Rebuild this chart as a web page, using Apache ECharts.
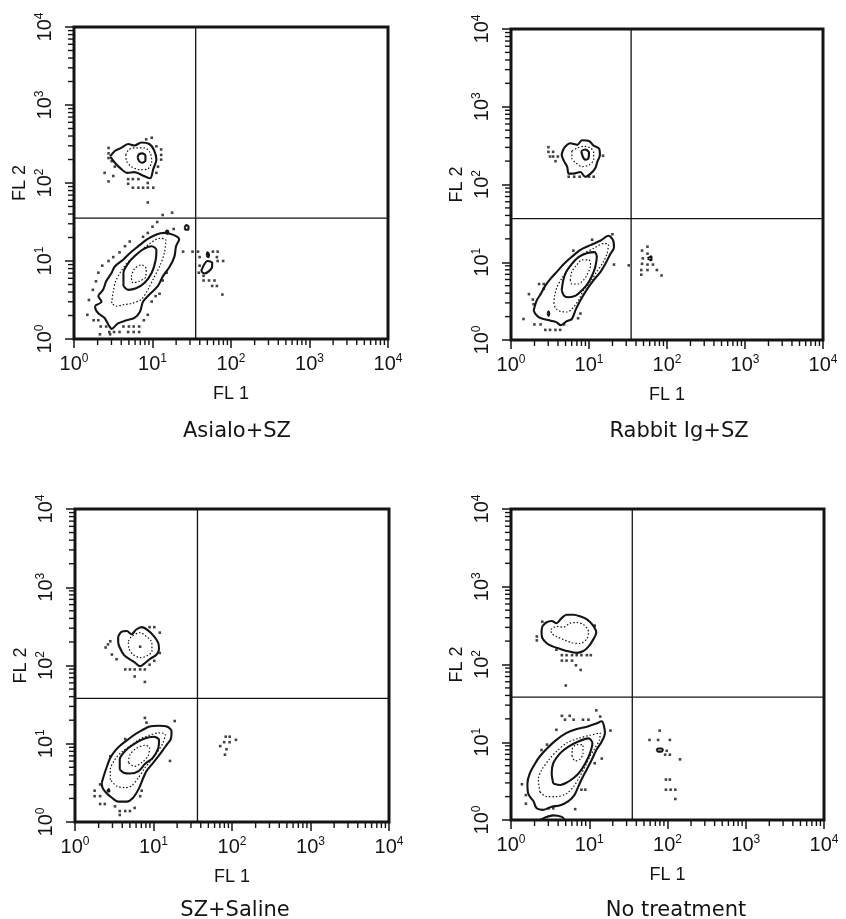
<!DOCTYPE html>
<html><head><meta charset="utf-8">
<script src="https://cdn.jsdelivr.net/npm/echarts@6/dist/echarts.min.js"></script>
<style>html,body{margin:0;padding:0;background:#fff}#c{width:846px;height:919px}</style>
</head><body><div id="c"></div><script>
// All coordinates are in decades: [log10(FL1), log10(FL2)]
const panelTitles = ['Asialo+SZ', 'Rabbit Ig+SZ', 'SZ+Saline', 'No treatment'];
const xAxisName = 'FL 1';
const yAxisName = 'FL 2';
const tickDecades = [0, 1, 2, 3, 4];
const minorFactors = [2, 3, 4, 5, 6, 7, 8, 9];
const quadrantCuts = [[1.55, 1.55], [1.54, 1.56], [1.56, 1.58], [1.55, 1.58]];

// ---- Asialo+SZ ----
const asialoUpOuter = [[0.46,2.34],[0.52,2.41],[0.60,2.45],[0.69,2.50],[0.77,2.48],[0.86,2.52],[0.96,2.50],[1.02,2.42],[1.05,2.30],[1.01,2.18],[0.97,2.06],[0.89,2.09],[0.77,2.14],[0.68,2.13],[0.59,2.19],[0.52,2.26]];
const asialoUpMid = [[0.66,2.36],[0.70,2.43],[0.79,2.45],[0.90,2.45],[0.97,2.39],[0.99,2.28],[0.94,2.18],[0.84,2.17],[0.73,2.21],[0.67,2.28]];
const asialoUpCore = [[0.81,2.33],[0.83,2.37],[0.87,2.38],[0.91,2.35],[0.91,2.29],[0.87,2.26],[0.83,2.28]];
const asialoLowOuter = [[0.27,0.43],[0.35,0.48],[0.31,0.55],[0.37,0.63],[0.41,0.74],[0.48,0.85],[0.52,0.93],[0.63,1.02],[0.71,1.10],[0.82,1.19],[0.92,1.27],[1.05,1.34],[1.15,1.36],[1.22,1.35],[1.30,1.32],[1.34,1.28],[1.30,1.19],[1.28,1.06],[1.22,0.93],[1.13,0.80],[1.07,0.68],[0.96,0.57],[0.88,0.48],[0.84,0.35],[0.77,0.27],[0.67,0.24],[0.56,0.20],[0.48,0.13],[0.44,0.18],[0.39,0.27],[0.31,0.33],[0.27,0.40]];
const asialoLowMid = [[0.48,0.46],[0.50,0.61],[0.53,0.74],[0.60,0.87],[0.71,1.01],[0.84,1.12],[0.96,1.22],[1.09,1.29],[1.17,1.27],[1.15,1.10],[1.09,0.93],[1.01,0.77],[0.94,0.63],[0.86,0.51],[0.75,0.46],[0.63,0.44],[0.54,0.42]];
const asialoLowInner = [[0.63,0.68],[0.63,0.85],[0.69,0.97],[0.77,1.06],[0.88,1.15],[0.99,1.19],[1.05,1.14],[1.04,1.01],[0.99,0.85],[0.90,0.72],[0.79,0.65],[0.69,0.63]];
const asialoLowCore = [[0.73,0.80],[0.77,0.90],[0.86,0.95],[0.92,0.90],[0.91,0.79],[0.83,0.74],[0.75,0.72]];
const asialoSpeckA = [[1.41,1.43],[1.43,1.46],[1.46,1.44],[1.45,1.40],[1.42,1.40]];
const asialoSpeckB = [[1.17,1.36],[1.18,1.39],[1.20,1.38],[1.19,1.35]];
const asialoRightOuter = [[1.62,0.87],[1.65,0.94],[1.70,1.00],[1.76,0.98],[1.76,0.93],[1.72,0.87],[1.66,0.84]];
const asialoRightSpeck = [[1.69,1.07],[1.70,1.11],[1.72,1.08],[1.71,1.05]];
const asialoDots = [[0.44,2.45],[0.44,2.38],[0.44,2.32],[0.48,2.28],[0.52,2.21],[0.39,2.13],[0.44,2.02],[0.50,2.09],[0.69,2.05],[0.75,2.05],[0.82,2.05],[0.69,1.99],[0.75,1.94],[0.82,1.94],[0.88,1.94],[0.94,1.94],[1.01,1.94],[0.94,2.00],[0.99,2.58],[0.92,2.56],[1.05,2.47],[1.11,2.43],[1.11,2.36],[1.11,2.30],[1.07,2.21],[1.05,2.13],
 [0.94,1.75],[1.13,1.59],[1.25,1.62],[1.06,1.50],[1.00,1.44],[0.94,1.36],[0.88,1.31],[1.27,1.41],[0.71,1.25],[0.65,1.19],[0.58,1.11],[0.50,1.05],[0.44,1.00],[0.36,0.94],[0.31,0.85],[0.28,0.74],[0.24,0.63],[0.19,0.50],[0.17,0.31],[0.25,0.24],[0.31,0.24],[0.34,0.16],[0.41,0.16],[0.45,0.09],[0.51,0.09],[0.58,0.09],[0.63,0.16],[0.70,0.16],[0.76,0.16],[0.83,0.16],[0.69,0.09],[0.76,0.09],[0.83,0.09],[0.89,0.24],[0.94,0.31],[0.99,0.48],[1.04,0.55],[1.09,0.58],[1.13,0.75],[1.18,0.85],[0.33,0.06],[0.46,0.06],
 [1.39,1.12],[1.51,1.12],[1.58,1.12],[1.60,1.05],[1.77,1.12],[1.83,1.12],[1.82,1.05],[1.83,1.00],[1.90,1.00],[1.60,0.94],[1.59,0.85],[1.65,0.81],[1.65,0.75],[1.72,0.75],[1.79,0.75],[1.76,0.68],[1.82,0.68],[1.89,0.57]];

// ---- Rabbit Ig+SZ ----
const rabbitUpOuter = [[0.68,2.47],[0.76,2.53],[0.85,2.51],[0.91,2.57],[1.00,2.56],[1.06,2.50],[1.13,2.46],[1.14,2.38],[1.11,2.30],[1.08,2.21],[1.02,2.14],[0.95,2.10],[0.89,2.16],[0.80,2.14],[0.74,2.14],[0.72,2.23],[0.68,2.30],[0.65,2.38]];
const rabbitUpMid = [[0.78,2.43],[0.85,2.47],[0.93,2.49],[1.02,2.47],[1.06,2.41],[1.06,2.32],[1.00,2.25],[0.91,2.23],[0.83,2.28],[0.78,2.34]];
const rabbitUpCore = [[0.90,2.43],[0.95,2.45],[1.00,2.41],[0.99,2.33],[0.95,2.32],[0.92,2.36]];
const rabbitLowOuter = [[0.29,0.38],[0.33,0.51],[0.38,0.59],[0.44,0.70],[0.50,0.78],[0.59,0.88],[0.68,0.98],[0.78,1.07],[0.89,1.16],[1.02,1.22],[1.15,1.28],[1.25,1.34],[1.31,1.28],[1.32,1.19],[1.27,1.10],[1.21,0.98],[1.15,0.88],[1.06,0.77],[0.98,0.66],[0.89,0.51],[0.83,0.39],[0.78,0.27],[0.71,0.24],[0.64,0.19],[0.58,0.23],[0.50,0.25],[0.42,0.27],[0.36,0.29],[0.31,0.34]];
const rabbitLowMid = [[0.55,0.47],[0.56,0.57],[0.59,0.68],[0.65,0.79],[0.74,0.92],[0.83,1.03],[0.93,1.11],[1.06,1.18],[1.19,1.24],[1.25,1.23],[1.23,1.11],[1.17,0.98],[1.10,0.88],[1.02,0.75],[0.93,0.64],[0.87,0.52],[0.80,0.42],[0.72,0.36],[0.63,0.37],[0.57,0.41]];
const rabbitLowInner = [[0.65,0.64],[0.67,0.77],[0.71,0.88],[0.78,0.98],[0.87,1.07],[0.98,1.12],[1.07,1.13],[1.10,1.07],[1.08,0.94],[1.04,0.83],[0.98,0.72],[0.91,0.64],[0.83,0.57],[0.74,0.55],[0.68,0.57]];
const rabbitLowCore = [[0.76,0.77],[0.78,0.88],[0.84,0.96],[0.91,1.03],[1.00,1.03],[1.02,0.96],[0.98,0.85],[0.93,0.77],[0.86,0.72],[0.78,0.72]];
const rabbitSpeck = [[0.47,0.34],[0.48,0.37],[0.49,0.34],[0.48,0.31]];
const rabbitRightTri = [[1.75,1.05],[1.80,1.08],[1.80,1.02]];
const rabbitDots = [[0.48,2.48],[0.48,2.42],[0.54,2.42],[0.54,2.36],[0.60,2.36],[0.57,2.30],[0.50,2.36],[0.74,2.10],[0.81,2.10],[0.88,2.10],[1.00,2.10],[1.06,2.10],[1.18,2.37],
 [0.36,0.72],[0.42,0.72],[0.42,0.66],[0.23,0.59],[0.28,0.52],[0.29,0.46],[0.16,0.27],[0.30,0.20],[0.38,0.20],[0.44,0.13],[0.50,0.13],[0.57,0.13],[0.63,0.13],[0.68,0.20],[0.80,1.15],[1.04,1.29],[1.30,1.36],[1.32,0.97],[0.86,0.28],[0.89,0.34],
 [1.75,1.20],[1.68,1.15],[1.75,1.11],[1.69,1.05],[1.68,0.98],[1.75,0.97],[1.82,0.97],[1.67,0.90],[1.75,0.90],[1.87,0.90],[1.93,0.83],[1.67,0.84],[1.51,0.96]];

// ---- SZ+Saline ----
const salineUpOuter = [[0.55,2.37],[0.59,2.43],[0.66,2.44],[0.72,2.40],[0.78,2.46],[0.85,2.49],[0.93,2.45],[1.01,2.37],[1.06,2.29],[1.07,2.21],[1.04,2.14],[0.95,2.08],[0.89,2.03],[0.83,1.99],[0.76,2.04],[0.68,2.09],[0.62,2.14],[0.57,2.23],[0.55,2.30]];
const salineUpMid = [[0.68,2.31],[0.72,2.37],[0.83,2.42],[0.91,2.37],[0.98,2.29],[0.98,2.18],[0.91,2.12],[0.83,2.10],[0.74,2.14],[0.69,2.21]];
const salineLowOuter = [[0.34,0.50],[0.37,0.60],[0.40,0.69],[0.45,0.82],[0.51,0.91],[0.58,0.98],[0.67,1.05],[0.75,1.11],[0.85,1.17],[0.95,1.22],[1.07,1.23],[1.17,1.22],[1.23,1.16],[1.22,1.06],[1.17,0.99],[1.12,0.92],[1.06,0.84],[0.99,0.75],[0.91,0.65],[0.86,0.54],[0.81,0.42],[0.74,0.31],[0.66,0.26],[0.55,0.26],[0.47,0.31],[0.40,0.37],[0.35,0.44]];
const salineLowMid = [[0.45,0.54],[0.45,0.67],[0.51,0.80],[0.59,0.89],[0.70,0.97],[0.83,1.06],[0.95,1.11],[1.07,1.14],[1.15,1.12],[1.12,1.01],[1.06,0.91],[0.98,0.80],[0.89,0.69],[0.81,0.57],[0.72,0.46],[0.64,0.44],[0.53,0.46]];
const salineLowInner = [[0.57,0.67],[0.57,0.80],[0.64,0.91],[0.74,0.99],[0.87,1.06],[1.00,1.09],[1.07,1.05],[1.06,0.94],[0.99,0.82],[0.89,0.74],[0.81,0.65],[0.70,0.62],[0.62,0.63]];
const salineLowCore = [[0.68,0.76],[0.70,0.86],[0.78,0.94],[0.89,0.98],[0.95,0.95],[0.93,0.84],[0.85,0.76],[0.76,0.71]];
const salineSpeck = [[0.41,0.39],[0.43,0.42],[0.44,0.39]];
const salineDots = [[0.42,2.27],[0.39,2.23],[0.45,2.31],[0.47,2.14],[0.53,2.08],[0.64,1.95],[0.70,1.95],[0.76,1.95],[0.83,1.95],[0.89,1.95],[0.76,1.86],[0.89,1.79],[0.95,2.01],[1.01,2.06],[1.08,2.16],[1.08,2.42],[1.01,2.49],[0.95,2.49],[0.83,2.24],
 [0.45,0.84],[0.32,0.48],[0.25,0.40],[0.25,0.33],[0.32,0.33],[0.32,0.23],[0.38,0.23],[0.51,0.20],[0.57,0.14],[0.64,0.14],[0.70,0.14],[0.57,0.09],[0.76,0.18],[0.83,0.33],[0.85,0.40],[0.89,1.33],[1.27,1.29],[1.21,0.78],[0.64,1.06],[0.91,1.27],
 [1.85,0.97],[1.90,1.02],[1.92,1.09],[1.97,1.09],[1.97,1.02],[2.05,1.05],[1.93,0.93],[1.91,0.86]];

// ---- No treatment ----
const noneUpOuter = [[0.40,2.49],[0.45,2.54],[0.52,2.56],[0.58,2.53],[0.65,2.60],[0.71,2.64],[0.80,2.64],[0.88,2.62],[0.97,2.58],[1.05,2.50],[1.09,2.41],[1.05,2.32],[0.99,2.23],[0.92,2.17],[0.84,2.15],[0.73,2.17],[0.63,2.20],[0.54,2.23],[0.46,2.27],[0.40,2.34],[0.39,2.42]];
const noneUpMid = [[0.51,2.45],[0.58,2.49],[0.67,2.48],[0.75,2.53],[0.84,2.54],[0.93,2.51],[0.99,2.42],[0.97,2.33],[0.88,2.27],[0.78,2.28],[0.67,2.32],[0.58,2.36],[0.52,2.40]];
const noneLowOuter = [[0.29,0.24],[0.22,0.34],[0.21,0.47],[0.24,0.60],[0.31,0.73],[0.37,0.82],[0.46,0.92],[0.58,1.03],[0.71,1.12],[0.84,1.17],[0.97,1.20],[1.09,1.24],[1.16,1.27],[1.19,1.20],[1.20,1.12],[1.16,1.01],[1.09,0.90],[1.04,0.79],[0.99,0.69],[0.92,0.56],[0.86,0.43],[0.81,0.32],[0.73,0.24],[0.63,0.19],[0.52,0.17],[0.41,0.13],[0.33,0.15]];
const noneLowMid = [[0.37,0.36],[0.35,0.52],[0.39,0.64],[0.48,0.77],[0.58,0.88],[0.71,0.99],[0.86,1.05],[1.01,1.09],[1.14,1.12],[1.13,1.03],[1.07,0.92],[1.01,0.82],[0.95,0.69],[0.88,0.56],[0.80,0.43],[0.71,0.34],[0.58,0.30],[0.46,0.30]];
const noneLowInner = [[0.54,0.47],[0.52,0.60],[0.54,0.73],[0.63,0.86],[0.73,0.94],[0.86,1.01],[0.99,1.05],[1.04,0.99],[1.01,0.86],[0.95,0.73],[0.88,0.62],[0.80,0.54],[0.71,0.48],[0.63,0.45]];
const noneLowCore = [[0.78,0.82],[0.78,0.90],[0.84,0.97],[0.92,0.97],[0.92,0.86],[0.88,0.78],[0.82,0.76]];
const noneBottomArc = [[0.37,0.00],[0.43,0.03],[0.54,0.06],[0.65,0.04],[0.69,0.00]];
const noneRightOuter = [[1.86,0.90],[1.88,0.92],[1.92,0.92],[1.94,0.90],[1.92,0.88],[1.88,0.88]];
const noneDots = [[0.33,2.36],[0.33,2.31],[0.40,2.55],[1.07,2.50],[0.58,2.19],[0.65,2.12],[0.71,2.12],[0.78,2.12],[0.84,2.12],[0.90,2.12],[0.97,2.12],[1.02,2.12],[0.65,2.05],[0.71,2.05],[0.78,2.05],[0.83,1.99],[0.89,1.93],[0.70,1.73],
 [0.65,1.34],[0.75,1.34],[0.58,1.16],[0.69,1.29],[0.80,1.29],[0.92,1.29],[0.99,1.29],[1.09,1.41],[1.14,1.33],[1.27,1.15],[1.16,0.79],[1.07,0.73],[0.90,0.39],[0.95,0.39],[0.82,0.14],[0.48,0.15],[0.54,0.15],[0.14,0.46],[0.19,0.32],[0.19,0.21],[0.46,0.97],[0.39,0.90],
 [1.77,1.03],[1.88,1.03],[2.03,1.03],[1.90,1.15],[1.99,0.89],[2.03,0.84],[1.97,0.84],[2.16,0.78],[1.98,0.52],[2.03,0.52],[1.98,0.39],[2.04,0.39],[2.10,0.39],[2.10,0.27]];

// ---------- build ----------
const panels = [
  { contours: [[asialoUpOuter,'s'],[asialoUpMid,'d'],[asialoUpCore,'s'],[asialoLowOuter,'s'],[asialoLowMid,'d'],[asialoLowInner,'s'],[asialoLowCore,'d'],[asialoSpeckA,'s'],[asialoSpeckB,'s'],[asialoRightOuter,'s'],[asialoRightSpeck,'s']], dots: asialoDots },
  { contours: [[rabbitUpOuter,'s'],[rabbitUpMid,'d'],[rabbitUpCore,'s'],[rabbitLowOuter,'s'],[rabbitLowMid,'d'],[rabbitLowInner,'s'],[rabbitLowCore,'d'],[rabbitSpeck,'s'],[rabbitRightTri,'s']], dots: rabbitDots },
  { contours: [[salineUpOuter,'s'],[salineUpMid,'d'],[salineLowOuter,'s'],[salineLowMid,'d'],[salineLowInner,'s'],[salineLowCore,'d'],[salineSpeck,'s']], dots: salineDots },
  { contours: [[noneUpOuter,'s'],[noneUpMid,'d'],[noneLowOuter,'s'],[noneLowMid,'d'],[noneLowInner,'s'],[noneLowCore,'d'],[noneBottomArc,'o'],[noneRightOuter,'s']], dots: noneDots }
];
const layout = [
  { left: 74,  top: 27,  width: 314, height: 312, tx: 232, ty: 416 },
  { left: 511, top: 29,  width: 312, height: 311, tx: 674, ty: 416 },
  { left: 75,  top: 509, width: 314, height: 313, tx: 230, ty: 895 },
  { left: 511, top: 509, width: 313, height: 311, tx: 671, ty: 895 }
];
const INK = '#141414';
const LF = '"Liberation Sans", Arial, Helvetica, sans-serif';
const minorPos = [];
tickDecades.slice(0, -1).forEach(d => minorFactors.forEach(f => minorPos.push(d + Math.log10(f))));

const labelRich = {
  b: { fontSize: 20, fontFamily: LF, color: INK, lineHeight: 22 },
  s: { fontSize: 12, fontFamily: LF, color: INK, verticalAlign: 'top', lineHeight: 12 }
};
const fmt = v => '{b|10}{s|' + v + '}';

const grids = [], xAxes = [], yAxes = [], series = [], titles = [];
layout.forEach((g, i) => {
  grids.push({ left: g.left, top: g.top, width: g.width, height: g.height, show: true,
    borderColor: INK, borderWidth: 3, backgroundColor: 'transparent', containLabel: false, outerBoundsMode: 'none' });
  xAxes.push({ type: 'value', gridIndex: i, min: tickDecades[0], max: tickDecades[tickDecades.length - 1], interval: 1,
    name: xAxisName, nameLocation: 'middle', nameGap: 46,
    nameTextStyle: { fontFamily: LF, fontSize: 18, color: INK },
    axisLine: { show: false }, splitLine: { show: false },
    axisTick: { show: true, inside: false, length: 9, lineStyle: { color: INK, width: 1.5 } },
    axisLabel: { margin: 14, formatter: fmt, rich: labelRich, showMinLabel: true, showMaxLabel: true } });
  yAxes.push({ type: 'value', gridIndex: i, min: tickDecades[0], max: tickDecades[tickDecades.length - 1], interval: 1,
    name: yAxisName, nameLocation: 'middle', nameGap: 45, nameRotate: 90,
    nameTextStyle: { fontFamily: LF, fontSize: 18, color: INK },
    axisLine: { show: false }, splitLine: { show: false },
    axisTick: { show: true, inside: false, length: 9, lineStyle: { color: INK, width: 1.5 } },
    axisLabel: { margin: 18, rotate: 90, formatter: fmt, rich: labelRich, showMinLabel: true, showMaxLabel: true } });
  titles.push({ text: panelTitles[i], left: g.tx, top: g.ty, textAlign: 'center',
    textStyle: { fontFamily: '"DejaVu Sans", sans-serif', fontSize: 21, fontWeight: 'normal', color: INK } });

  const p = panels[i];
  p.contours.forEach(([pts, kind]) => {
    series.push({ type: 'line', xAxisIndex: i, yAxisIndex: i, silent: true, symbol: 'none', smooth: 0.3,
      data: kind === 'o' ? pts : pts.concat([pts[0]]),
      lineStyle: kind === 'd' ? { color: INK, width: 1.2, type: [1.5, 2] } : { color: INK, width: 2.1 } });
  });
  series.push({ type: 'scatter', xAxisIndex: i, yAxisIndex: i, silent: true, symbol: 'rect', symbolSize: 2.6,
    itemStyle: { color: INK }, data: p.dots });
  const [cx, cy] = quadrantCuts[i];
  const lo = tickDecades[0], hi = tickDecades[tickDecades.length - 1];
  series.push({ type: 'line', xAxisIndex: i, yAxisIndex: i, silent: true, symbol: 'none', data: [[cx, lo], [cx, hi]], lineStyle: { color: INK, width: 1.3 } });
  series.push({ type: 'line', xAxisIndex: i, yAxisIndex: i, silent: true, symbol: 'none', data: [[lo, cy], [hi, cy]], lineStyle: { color: INK, width: 1.3 } });
  series.push({ type: 'custom', xAxisIndex: i, yAxisIndex: i, silent: true, clip: false,
    data: minorPos.map(v => [v, lo]),
    renderItem: (params, api) => { const c = api.coord([api.value(0), api.value(1)]);
      return { type: 'line', shape: { x1: c[0], y1: c[1], x2: c[0], y2: c[1] + 6 }, style: { stroke: INK, lineWidth: 1.4 } }; } });
  series.push({ type: 'custom', xAxisIndex: i, yAxisIndex: i, silent: true, clip: false,
    data: minorPos.map(v => [lo, v]),
    renderItem: (params, api) => { const c = api.coord([api.value(0), api.value(1)]);
      return { type: 'line', shape: { x1: c[0], y1: c[1], x2: c[0] - 6, y2: c[1] }, style: { stroke: INK, lineWidth: 1.4 } }; } });
});

const chart = echarts.init(document.getElementById('c'), null, { renderer: 'canvas' });
chart.setOption({ animation: false, backgroundColor: '#fff', title: titles, grid: grids, xAxis: xAxes, yAxis: yAxes, series: series });
</script></body></html>
